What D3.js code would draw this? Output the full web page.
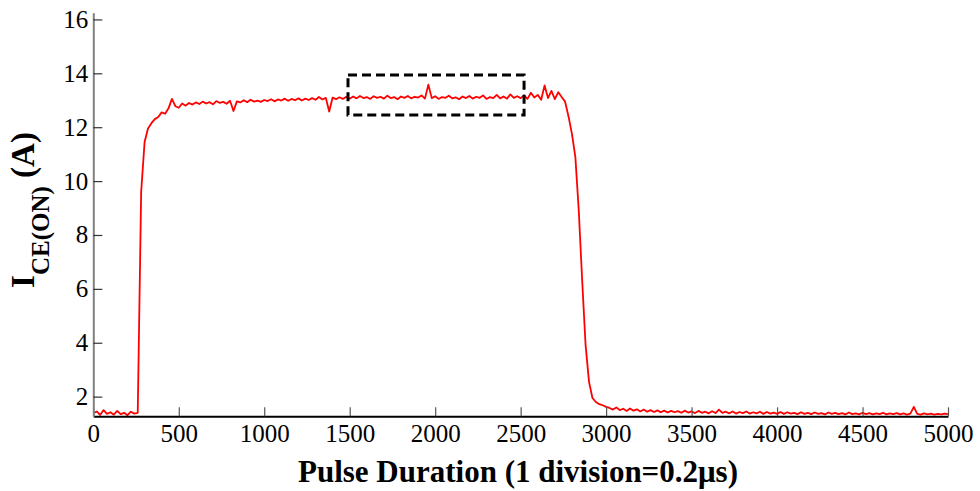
<!DOCTYPE html>
<html>
<head>
<meta charset="utf-8">
<script src="https://cdn.jsdelivr.net/npm/d3@7"></script>
<style>
  body { margin: 0; background: #fff; }
  svg { display: block; }
</style>
</head>
<body>
<svg id="chart" width="980" height="491"></svg>
<script>
// sample spacing of the trace (pulse duration units)
var sampleStep = 20;

// collector current I_CE(ON), one value every sampleStep
var current = [
  1.38, 1.45, 1.32, 1.50, 1.36, 1.42, 1.33, 1.47, 1.35, 1.40, 1.31, 1.44, 1.37,
  1.40, 9.60, 11.45, 11.95, 12.15, 12.30, 12.38, 12.55, 12.50, 12.70, 13.05,
  12.78, 12.72, 12.88, 12.80, 12.90, 12.84, 12.92,
  12.86, 12.95, 12.88, 12.93, 12.85, 12.97, 12.90, 12.94, 12.87, 12.98,
  12.60, 12.96, 12.92, 13.00, 12.93, 13.02, 12.95, 12.99, 12.94, 13.01,
  12.97, 13.04, 12.96, 13.03, 12.99, 13.06, 12.98, 13.05, 13.00, 13.07,
  12.99, 13.06, 13.01, 13.08, 13.02, 13.12, 13.03, 13.09, 12.58, 13.10,
  13.04, 13.11, 13.05, 13.13, 13.06,
  13.14, 13.07, 13.16, 13.08, 13.12, 13.05, 13.15, 13.09, 13.13, 13.06,
  13.17, 13.08, 13.12, 13.04, 13.14, 13.09, 13.16, 13.07, 13.13, 13.10,
  13.18, 13.06, 13.58, 13.08, 13.15, 13.05, 13.12, 13.09, 13.17, 13.07,
  13.11, 13.04, 13.14, 13.08, 13.16, 13.06, 13.13, 13.09, 13.18, 13.05,
  13.12, 13.08, 13.20, 13.07, 13.14, 13.06, 13.22, 13.09, 13.15, 13.08,
  13.18, 13.05, 13.28, 13.10, 13.20, 13.02, 13.55, 13.08, 13.35, 13.04,
  13.30, 13.12,
  12.95, 12.40, 11.75, 10.90, 8.90, 6.30, 3.90, 2.55, 1.95, 1.80,
  1.72, 1.68, 1.62,
  1.58, 1.52, 1.60, 1.50, 1.55, 1.47, 1.56, 1.48, 1.53, 1.45,
  1.52, 1.44, 1.50, 1.43, 1.49, 1.42, 1.48, 1.41, 1.47, 1.42,
  1.46, 1.40, 1.48, 1.41, 1.45, 1.39, 1.47, 1.40, 1.44, 1.38,
  1.46, 1.39, 1.52, 1.40, 1.44, 1.38, 1.45, 1.37, 1.43, 1.39,
  1.45, 1.37, 1.42, 1.38, 1.44, 1.36, 1.43, 1.37, 1.41, 1.36,
  1.43, 1.36, 1.42, 1.37, 1.40, 1.35, 1.42, 1.36, 1.40, 1.35,
  1.41, 1.36, 1.39, 1.34, 1.41, 1.36, 1.40, 1.35, 1.39, 1.34,
  1.41, 1.35, 1.38, 1.34, 1.40, 1.35, 1.39, 1.34, 1.38, 1.35,
  1.40, 1.34, 1.38, 1.35, 1.39, 1.34, 1.38, 1.33, 1.37, 1.62,
  1.36, 1.33, 1.38, 1.34, 1.37, 1.33, 1.36, 1.34, 1.37, 1.35
];

var xTicks = [0, 500, 1000, 1500, 2000, 2500, 3000, 3500, 4000, 4500, 5000];
var yTicks = [2, 4, 6, 8, 10, 12, 14, 16];

// dashed highlight box (data units)
var boxX = [1490, 2520];
var boxY = [12.45, 13.94];

var svg = d3.select("#chart");
var font = "'Liberation Serif', 'Times New Roman', serif";

var x = d3.scaleLinear().domain([0, 5000]).range([93.3, 948]);
var y = d3.scaleLinear().domain([1.27, 16.25]).range([416.3, 12.7]);

// trace
var line = d3.line()
    .x(function(d, i) { return x(i * sampleStep); })
    .y(function(d) { return y(d); });

svg.append("path")
    .datum(current)
    .attr("d", line)
    .attr("fill", "none")
    .attr("stroke", "#ff0000")
    .attr("stroke-width", 1.8)
    .attr("stroke-linejoin", "round");

// dashed box
svg.append("rect")
    .attr("x", x(boxX[0]))
    .attr("y", y(boxY[1]))
    .attr("width", x(boxX[1]) - x(boxX[0]))
    .attr("height", y(boxY[0]) - y(boxY[1]))
    .attr("fill", "none")
    .attr("stroke", "#000")
    .attr("stroke-width", 3)
    .attr("stroke-dasharray", "9,5");

// x axis
var xAxis = svg.append("g")
    .attr("transform", "translate(0," + y.range()[0] + ")")
    .call(d3.axisBottom(x).tickValues(xTicks).tickFormat(d3.format("d"))
      .tickSizeInner(-9).tickSizeOuter(0).tickPadding(8));
xAxis.select(".domain").attr("stroke", "#000").attr("stroke-width", 2);
xAxis.selectAll(".tick line").attr("stroke", "#555").attr("stroke-width", 1.2);
xAxis.selectAll("text")
    .style("font-family", font)
    .style("font-size", "25px")
    .attr("fill", "#000");

// y axis
var yAxis = svg.append("g")
    .attr("transform", "translate(" + x.range()[0] + ",0)")
    .call(d3.axisLeft(y).tickValues(yTicks).tickSizeInner(-9).tickSizeOuter(0).tickPadding(5));
yAxis.select(".domain").attr("stroke", "#808080").attr("stroke-width", 2);
yAxis.selectAll(".tick line").attr("stroke", "#333").attr("stroke-width", 1.2);
yAxis.selectAll("text")
    .style("font-family", font)
    .style("font-size", "25px")
    .attr("fill", "#000");

// axis titles
svg.append("text")
    .attr("x", 518)
    .attr("y", 482)
    .attr("text-anchor", "middle")
    .style("font-family", font)
    .style("font-size", "31px")
    .attr("font-weight", "bold")
    .text("Pulse Duration (1 division=0.2\u03bcs)");

var ylab = svg.append("text")
    .attr("transform", "translate(34,210) rotate(-90)")
    .attr("text-anchor", "middle")
    .style("font-family", font)
    .attr("font-weight", "bold")
    .style("font-size", "33px");
ylab.append("tspan").text("I");
ylab.append("tspan").style("font-size", "25px").attr("dy", 15).text("CE(ON)");
ylab.append("tspan").attr("dy", -15).text(" (A)");
</script>
</body>
</html>
